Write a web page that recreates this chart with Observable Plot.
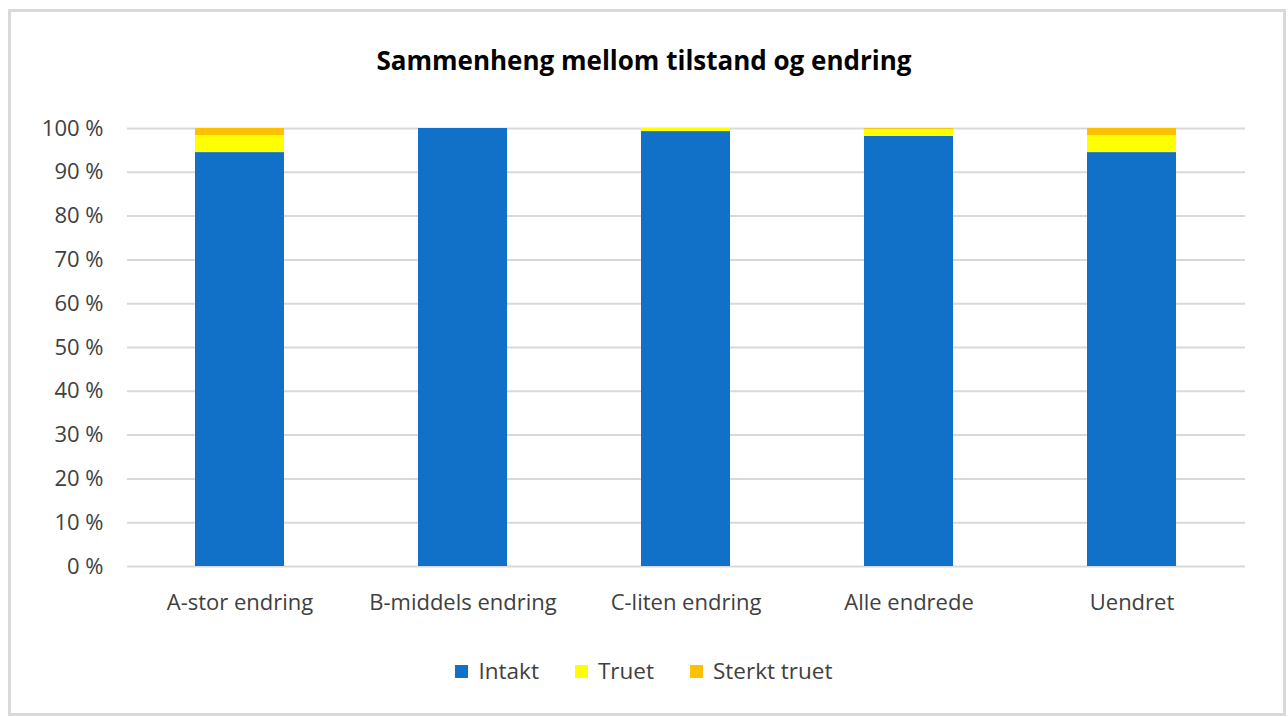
<!DOCTYPE html>
<html><head><meta charset="utf-8">
<script src="https://cdn.jsdelivr.net/npm/d3@7"></script>
<script src="https://cdn.jsdelivr.net/npm/@observablehq/plot@0.6"></script>
<style>
body{margin:0;background:#fff;font-family:"Open Sans",sans-serif;}
#frame{position:absolute;left:8px;top:9px;width:1272px;height:701px;border:3px solid #d9d9d9;}
#title{position:absolute;left:0;top:42px;width:1288px;text-align:center;font-weight:bold;font-size:26px;color:#000;}
#chart{position:absolute;left:0;top:100px;}
#legend{position:absolute;left:0;top:655px;width:1288px;display:flex;justify-content:center;gap:36px;font-size:22.5px;color:#404040;}
#legend span.sw{display:inline-block;width:13px;height:13px;margin-right:10px;vertical-align:1px;}
</style></head><body>
<div id="frame"></div>
<div id="title">Sammenheng mellom tilstand og endring</div>
<div id="chart"></div>
<div id="legend"></div>
<script>
const categories = ["A-stor endring","B-middels endring","C-liten endring","Alle endrede","Uendret"];
const seriesNames = ["Intakt","Truet","Sterkt truet"];
const seriesColors = ["#1170C8","#FFFF00","#FFC000"];
const intakt = [94.5, 100, 99.3, 98.2, 94.5];
const truet = [3.9, 0, 0.7, 1.6, 3.9];
const sterktTruet = [1.6, 0, 0, 0.2, 1.6];
const yTicks = [0,10,20,30,40,50,60,70,80,90,100];

const values = [intakt, truet, sterktTruet];
const rows = [];
seriesNames.forEach((s, i) => categories.forEach((c, j) => rows.push({cat: c, series: s, value: values[i][j]})));

const chart = Plot.plot({
  width: 1288, height: 530,
  marginTop: 28, marginBottom: 64, marginLeft: 127, marginRight: 43,
  style: {fontFamily: "'Open Sans', sans-serif", fontSize: "22px", color: "#404040", background: "transparent"},
  x: {domain: categories, paddingInner: 0.6, paddingOuter: 0.3, label: null, tickSize: 0, tickPadding: 28},
  y: {domain: [0, 100], ticks: yTicks, tickFormat: d => d + " %", label: null, tickSize: 0, tickPadding: 24},
  color: {domain: seriesNames, range: seriesColors},
  marks: [
    Plot.ruleY(yTicks, {stroke: "#d9d9d9", strokeWidth: 2}),
    Plot.barY(rows, {x: "cat", y: "value", fill: "series", order: seriesNames})
  ]
});
document.getElementById("chart").appendChild(chart);
chart.querySelectorAll("text").forEach(t => t.setAttribute("fill", "#404040"));

const lg = document.getElementById("legend");
seriesNames.forEach((s, i) => {
  const d = document.createElement("div");
  d.innerHTML = `<span class="sw" style="background:${seriesColors[i]}"></span>${s}`;
  lg.appendChild(d);
});
</script>
</body></html>
